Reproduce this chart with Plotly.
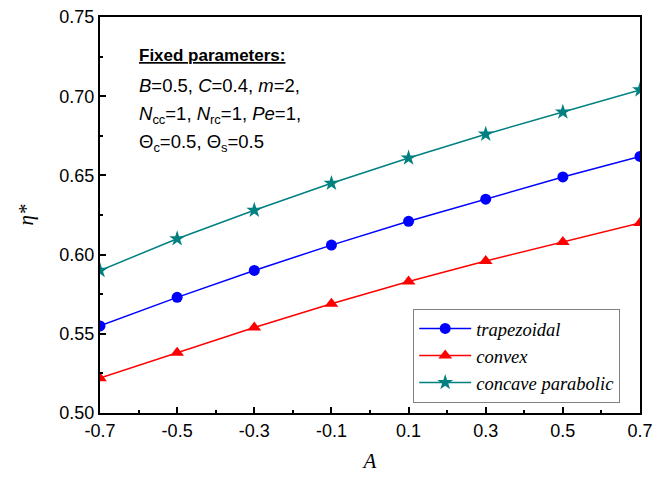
import plotly.graph_objects as go

A = [-0.7, -0.5, -0.3, -0.1, 0.1, 0.3, 0.5, 0.7]
trapezoidal = [0.555, 0.573, 0.590, 0.606, 0.621, 0.635, 0.649, 0.662]
convex = [0.522, 0.538, 0.554, 0.569, 0.583, 0.596, 0.608, 0.620]
concave = [0.590, 0.610, 0.628, 0.645, 0.661, 0.676, 0.690, 0.704]
x_ticks = [-0.7, -0.5, -0.3, -0.1, 0.1, 0.3, 0.5, 0.7]
x_ticklabels = ["-0.7", "-0.5", "-0.3", "-0.1", "0.1", "0.3", "0.5", "0.7"]
y_ticks = [0.50, 0.55, 0.60, 0.65, 0.70, 0.75]
y_ticklabels = ["0.50", "0.55", "0.60", "0.65", "0.70", "0.75"]
param_lines = [
    "<i>B</i>=0.5, <i>C</i>=0.4, <i>m</i>=2,",
    "<i>N</i><sub>cc</sub>=1, <i>N</i><sub>rc</sub>=1, <i>Pe</i>=1,",
    "Θ<sub>c</sub>=0.5, Θ<sub>s</sub>=0.5",
]

fig = go.Figure()
fig.add_trace(go.Scatter(x=A, y=trapezoidal, mode="lines+markers", name="<i>trapezoidal</i>",
                         line=dict(color="#0000FF", width=1.5),
                         marker=dict(symbol="circle", size=11, color="#0000FF")))
fig.add_trace(go.Scatter(x=A, y=convex, mode="lines+markers", name="<i>convex</i>",
                         line=dict(color="#FF0000", width=1.5),
                         marker=dict(symbol="triangle-up", size=12, color="#FF0000")))
fig.add_trace(go.Scatter(x=A, y=concave, mode="lines+markers", name="<i>concave parabolic</i>",
                         line=dict(color="#008080", width=1.5),
                         marker=dict(symbol="star", size=12, color="#008080")))

axis_common = dict(showline=True, linecolor="black", linewidth=2, mirror=True,
                   ticks="inside", ticklen=6, tickwidth=2, tickcolor="black",
                   showgrid=False, zeroline=False, automargin=False,
                   ticklabeloverflow="allow",
                   tickfont=dict(family="Liberation Sans, Arial", size=18, color="black"))

fig.update_xaxes(range=[-0.7, 0.7], tickvals=x_ticks, ticktext=x_ticklabels,
                 minor=dict(ticks="inside", ticklen=3, tickwidth=2, tickcolor="black", dtick=0.1, tick0=-0.7),
                 title=dict(text="<i>A</i>", font=dict(family="Liberation Serif, Times New Roman", size=21, color="black"),
                            standoff=14),
                 **axis_common)
fig.update_yaxes(range=[0.50, 0.75], tickvals=y_ticks, ticktext=y_ticklabels,
                 minor=dict(ticks="inside", ticklen=3, tickwidth=2, tickcolor="black", dtick=0.025, tick0=0.5),
                 title=dict(text="<i>η*</i>", font=dict(family="Liberation Serif, Times New Roman", size=21, color="black"),
                            standoff=20),
                 **axis_common)

fig.add_annotation(x=0.068, y=0.904, xref="paper", yref="paper", xanchor="left", yanchor="middle",
                   text="<b><u>Fixed parameters:</u></b>", showarrow=False,
                   font=dict(family="Liberation Sans, Arial", size=17, color="black"))
for line_text, yy in zip(param_lines, [0.828, 0.752, 0.683]):
    fig.add_annotation(x=0.068, y=yy, xref="paper", yref="paper", xanchor="left", yanchor="middle", align="left",
                       text=line_text, showarrow=False,
                       font=dict(family="Liberation Sans, Arial", size=18.5, color="black"))

fig.update_layout(width=652, height=477, plot_bgcolor="white", paper_bgcolor="white",
                  margin=dict(l=100, r=12, t=17, b=64),
                  legend=dict(x=0.58, y=0.263, xanchor="left", yanchor="top",
                              bgcolor="white", bordercolor="#808080", borderwidth=1,
                              font=dict(family="Liberation Serif, Times New Roman", size=18.5, color="black"),
                              itemwidth=52, tracegroupgap=0),
                  showlegend=True)

fig.write_html("out.html")
